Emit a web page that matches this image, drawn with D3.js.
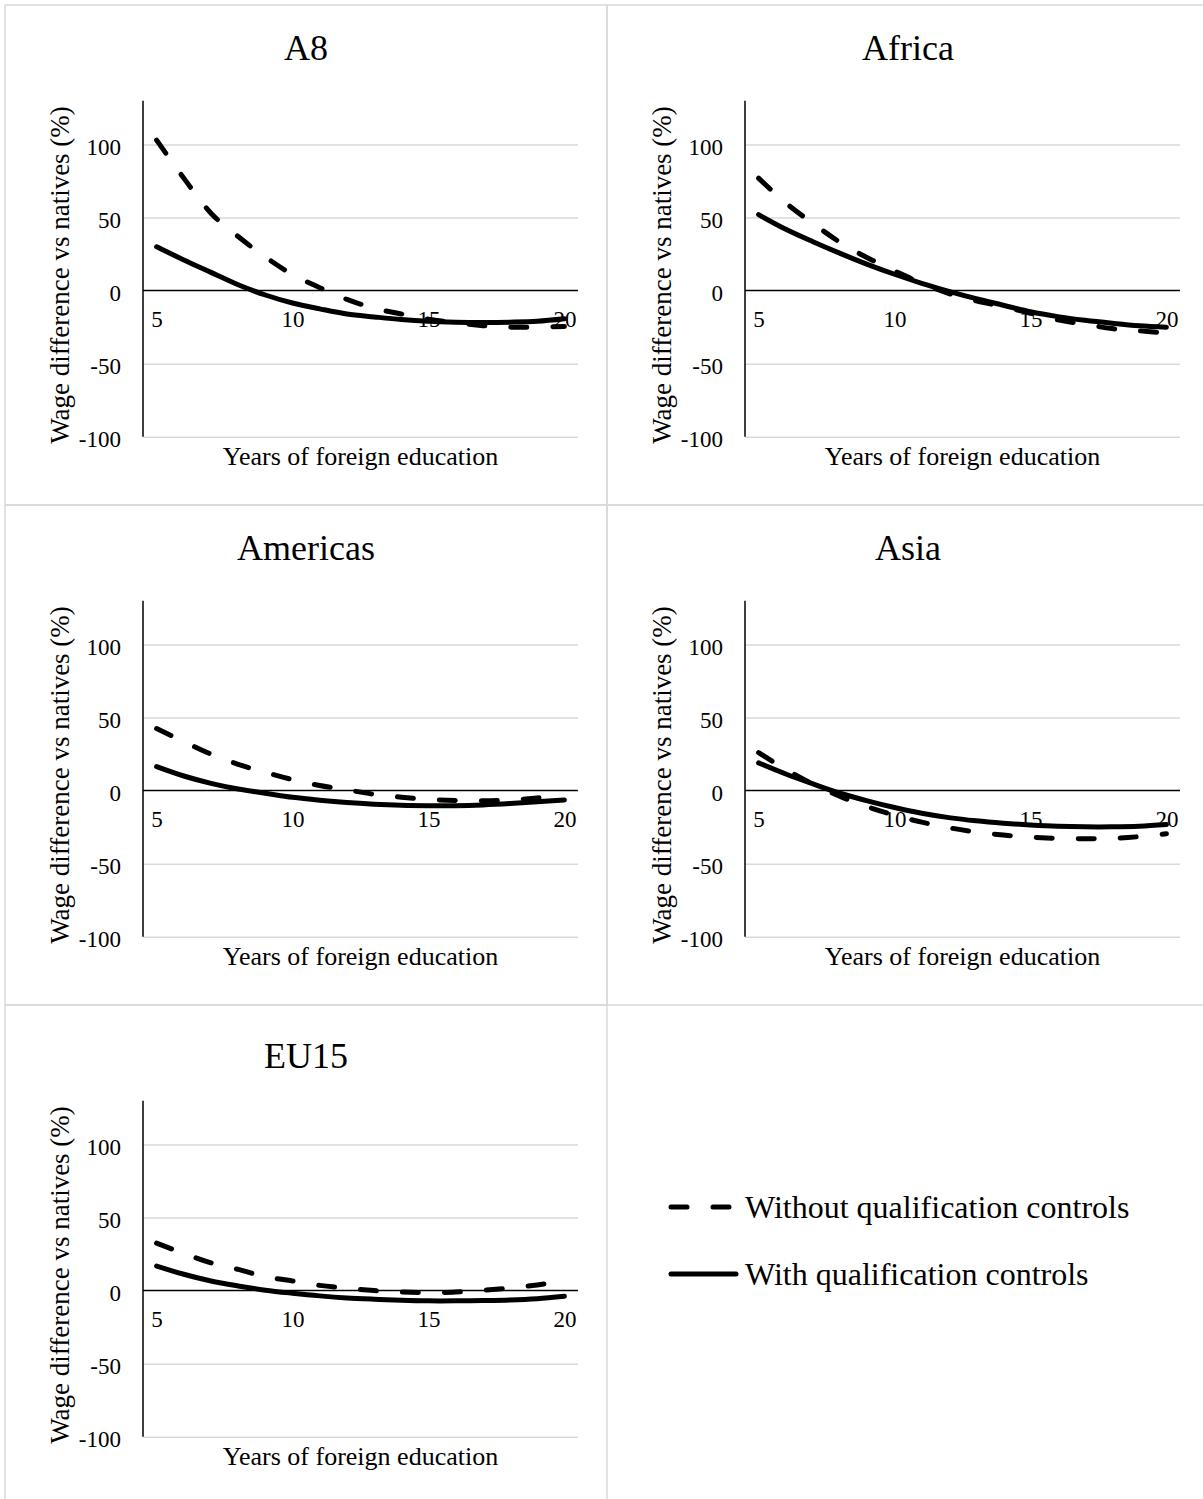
<!DOCTYPE html>
<html>
<head>
<meta charset="utf-8">
<script src="https://cdn.jsdelivr.net/npm/d3@7"></script>
<style>
  body { margin: 0; background: #fff; }
  svg { display: block; }
  text { font-family: "Liberation Serif", "Times New Roman", serif; fill: #000; }
</style>
</head>
<body>
<div id="chart"></div>
<script>
// years of foreign education (category axis)
const years = [5, 6, 7, 8, 9, 10, 11, 12, 13, 14, 15, 16, 17, 18, 19, 20];
const xTickLabels = [5, 10, 15, 20];
const yTicks = [-100, -50, 0, 50, 100];
const regions = ["A8", "Africa", "Americas", "Asia", "EU15"];
const seriesNames = ["Without qualification controls", "With qualification controls"];

// wage difference vs natives (%)
const withoutA8 = [103, 77, 53, 37, 23, 11, 2, -6, -12, -16, -19.5, -22, -24, -25, -25, -24.5];
const withA8 = [30, 21, 12.5, 4, -3, -8.5, -12.5, -16, -18, -19.8, -21, -21.6, -21.8, -21.6, -21, -19.3];
const withoutAfrica = [77, 60, 46, 33, 22.5, 13.5, 5, -2, -7, -11, -15.5, -20, -23, -26, -27.5, -29];
const withAfrica = [52, 42, 33.5, 25.5, 18, 11.2, 5, -0.5, -5.5, -10, -14.5, -17.8, -20.3, -22.3, -24, -25];
const withoutAmericas = [42.5, 33.5, 25, 18, 12.5, 7.5, 3.5, 0.5, -2.5, -4.5, -6, -6.8, -7, -6.5, -5, -3.5];
const withAmericas = [16.4, 10, 5, 1.1, -1.8, -4.6, -6.6, -8.2, -9.3, -10, -10.3, -10.3, -9.8, -8.9, -7.7, -6.4];
const withoutAsia = [26, 14.5, 4.5, -4, -11, -16.8, -21.6, -25.4, -28.3, -30.4, -31.8, -32.7, -33, -32.7, -31.5, -29.6];
const withAsia = [19, 11.4, 4.6, -1.8, -7, -11.6, -15.5, -18.5, -20.7, -22.3, -23.5, -24.4, -24.8, -24.8, -24.4, -23.2];
const withoutEU15 = [32.5, 25.5, 19, 14.5, 9.5, 6.6, 3.6, 1.6, 0, -1, -1.4, -1, 0.2, 1.8, 3.9, 6.5];
const withEU15 = [16.8, 11.2, 6.6, 3.2, 0.3, -1.8, -3.6, -5, -5.9, -6.6, -7, -7, -6.8, -6.4, -5.5, -3.9];

const withoutControls = [withoutA8, withoutAfrica, withoutAmericas, withoutAsia, withoutEU15];
const withControls = [withA8, withAfrica, withAmericas, withAsia, withEU15];

const width = 1203, height = 1499;
const cellW = 602, cellH = 500;
const plotLeft = 138, plotRight = 573;
const lineW = 5;
const dashes = "16,26";

const svg = d3.select("#chart")
    .append("svg")
    .attr("width", width)
    .attr("height", height);

svg.append("rect").attr("width", width).attr("height", height).attr("fill", "#fff");

regions.forEach((name, i) => {
    const col = i % 2, row = Math.floor(i / 2);
    const g = svg.append("g")
        .attr("transform", `translate(${5 + col * cellW},${5 + row * cellH})`);

    // chart area border
    g.append("rect")
        .attr("width", cellW)
        .attr("height", cellH)
        .attr("fill", "none")
        .attr("stroke", "#d9d9d9")
        .attr("stroke-width", 1.5);

    const x = d3.scalePoint().domain(years).range([plotLeft, plotRight]).padding(0.5);
    const y = d3.scaleLinear().domain([-100, 130]).range([431.7, 95.7]);

    // y gridlines + labels
    g.append("g")
        .attr("transform", `translate(${plotLeft},0)`)
        .call(d3.axisLeft(y).tickValues(yTicks).tickSize(-(plotRight - plotLeft)).tickPadding(22).tickFormat(d => String(d)))
        .attr("font-family", null)
        .attr("font-size", 23)
        .call(a => a.select(".domain").remove())
        .call(a => a.selectAll(".tick line")
            .attr("stroke", d => d === 0 ? "none" : "#d9d9d9")
            .attr("stroke-width", 1.5))
        .call(a => a.selectAll(".tick text").attr("dy", "0.42em").attr("fill", "#000"));

    // horizontal axis line at zero
    g.append("line")
        .attr("x1", plotLeft).attr("x2", plotRight)
        .attr("y1", y(0)).attr("y2", y(0))
        .attr("stroke", "#000").attr("stroke-width", 1.5);

    // vertical axis line
    g.append("line")
        .attr("x1", plotLeft).attr("x2", plotLeft)
        .attr("y1", y(130)).attr("y2", y(-100))
        .attr("stroke", "#000").attr("stroke-width", 1.5);

    // category labels sit just under the zero line
    g.append("g")
        .attr("transform", `translate(0,${y(0)})`)
        .call(d3.axisBottom(x).tickValues(xTickLabels).tickSize(0).tickPadding(20))
        .attr("font-family", null)
        .attr("font-size", 23)
        .call(a => a.select(".domain").remove())
        .call(a => a.selectAll(".tick text").attr("fill", "#000"));

    const line = d3.line()
        .x((d, j) => x(years[j]))
        .y(d => y(d))
        .curve(d3.curveCatmullRom.alpha(0.5));

    g.append("path")
        .attr("d", line(withoutControls[i]))
        .attr("fill", "none")
        .attr("stroke", "#000")
        .attr("stroke-width", lineW)
        .attr("stroke-dasharray", dashes)
        .attr("stroke-linecap", "round");

    g.append("path")
        .attr("d", line(withControls[i]))
        .attr("fill", "none")
        .attr("stroke", "#000")
        .attr("stroke-width", lineW)
        .attr("stroke-linecap", "round");

    // titles
    g.append("text")
        .attr("x", cellW / 2)
        .attr("y", i === 4 ? 63 : 55)
        .attr("text-anchor", "middle")
        .attr("font-size", 36)
        .text(name);

    g.append("text")
        .attr("transform", "translate(64,270) rotate(-90)")
        .attr("text-anchor", "middle")
        .attr("font-size", 27)
        .text("Wage difference vs natives (%)");

    g.append("text")
        .attr("x", (plotLeft + plotRight) / 2)
        .attr("y", 460)
        .attr("text-anchor", "middle")
        .attr("font-size", 26)
        .text("Years of foreign education");
});

// legend
const legend = svg.append("g").attr("transform", "translate(669,1207)");
seriesNames.forEach((s, k) => {
    const item = legend.append("g").attr("transform", `translate(0,${k * 67})`);
    item.append("line")
        .attr("x1", 2).attr("x2", k === 0 ? 64 : 67)
        .attr("y1", 0).attr("y2", 0)
        .attr("stroke", "#000")
        .attr("stroke-width", lineW)
        .attr("stroke-linecap", "round")
        .attr("stroke-dasharray", k === 0 ? dashes : null);
    item.append("text")
        .attr("x", 76)
        .attr("y", 11)
        .attr("font-size", 32)
        .text(s);
});
</script>
</body>
</html>
